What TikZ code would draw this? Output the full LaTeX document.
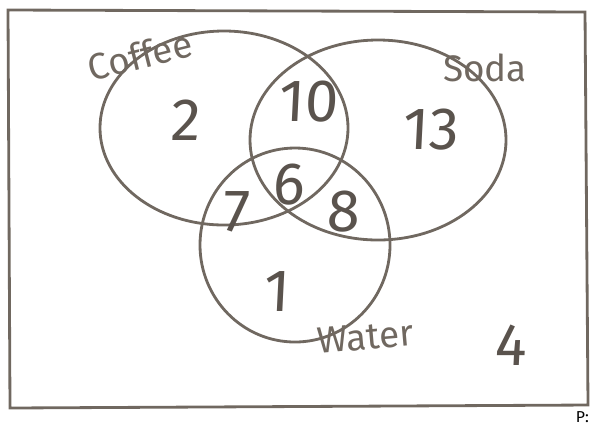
\documentclass[tikz,border=0pt]{standalone}
\usepackage{fontspec}
\setmainfont{Fira Sans}
\definecolor{pencil}{RGB}{112,104,96}
\begin{document}
\begin{tikzpicture}[x=0.02cm, y=-0.02cm]
            \useasboundingbox (0,0) rectangle (590,424);
            {
                \tikzset{every path/.style = {draw=pencil, line width=1.6pt}}

                \draw (8,10) -- (585,12) -- (588,405) -- (10,408) -- cycle;
                \draw (224,128) ellipse [x radius=124, y radius=97];
                \draw (378,140) ellipse [x radius=128, y radius=100];
                \draw (295,245) ellipse [x radius=95, y radius=97];
            }

            {
                \tikzset{every node/.style = {text=pencil!80!black, font=\fontsize{34}{34}\selectfont\addfontfeature{FakeSlant=0.05}}}

                \node (n2) at (185,120) {2};
                \node (n10) at (308,102) {10};
                \node (n13) at (430,130) {13};
                \node (n7) at (236,212) {7};
                \node (n6) at (288,185) {6};
                \node (n8) at (343,212) {8};
                \node (n1) at (276,292) {1};
                \node (n4) at (510,345) {4};
            }

            {
                \tikzset{every node/.style = {text=pencil, font=\fontsize{21}{21}\selectfont}}

                \node[rotate=14] (coffee) at (140,55) {Coffee};
                \node (soda) at (485,68) {Soda};
                \node[rotate=5] (water) at (365,337) {Water};
            }

            \node[font=\fontsize{9}{9}\selectfont, anchor=south east, inner sep=0.5pt] (page) at (590,424) {P:};

        \end{tikzpicture}
\end{document}
